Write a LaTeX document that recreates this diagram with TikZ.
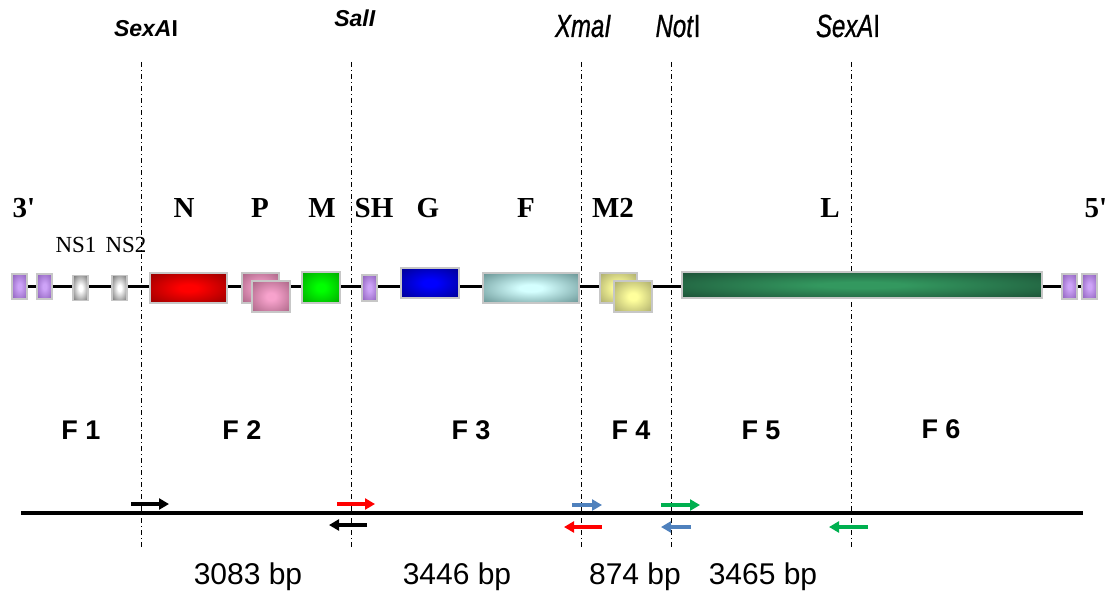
\documentclass[tikz,border=0pt]{standalone}
\usepackage{fontspec}
\setmainfont{Liberation Serif}[Ligatures=TeXOff]
\setsansfont{Liberation Sans}
\newfontfamily\narrowsans[FakeStretch=0.75,
  UprightFeatures={FakeBold=0.7}, ItalicFeatures={FakeBold=0.7}]{Liberation Sans}
\usetikzlibrary{arrows.meta,backgrounds}

\definecolor{primerblue}{HTML}{4F81BD}
\definecolor{primergreen}{HTML}{00B050}
\definecolor{glowin}{HTML}{FFFFFF}
\definecolor{glowout}{HTML}{000000}

% soft glow from the centre of a box towards its edges
\pgfdeclareradialshading[glowin,glowout]{boxglow}{\pgfpoint{0bp}{0bp}}{%
  color(0bp)=(glowin); color(6bp)=(glowin); color(38bp)=(glowout); color(50bp)=(glowout)}

\tikzset{
  gbox/.style={rectangle, draw=black!22, line width=1.3pt, inner sep=0pt},
  genebox/.style n args={4}{gbox, shade, shading=boxglow,
    /utils/exec={\definecolor{glowin}{HTML}{#1}\definecolor{glowout}{HTML}{#2}},
    minimum width=#3, minimum height=#4},
  purplebox/.style={genebox={CDA3F7}{8558B3}{15pt}{25pt}},
  graybox/.style={genebox={FFFFFF}{646464}{15pt}{25pt}},
  backbone/.style={line width=3pt, black},
  cutline/.style={line width=1pt, dash pattern=on 5pt off 3pt on 1pt off 3pt},
  strand/.style={line width=4pt, black},
  primer/.style={line width=4pt, -{Triangle[length=10pt,width=11pt]}},
  genelabel/.style={anchor=base, font=\bfseries\fontsize{29}{32}\selectfont},
  nslabel/.style={anchor=base, font=\fontsize{23}{26}\selectfont},
  sitebold/.style={anchor=base, font=\sffamily\bfseries\fontsize{23}{26}\selectfont},
  sitenarrow/.style={anchor=base, font=\narrowsans\fontsize{32}{35}\selectfont},
  fraglabel/.style={anchor=base, font=\sffamily\bfseries\fontsize{27}{30}\selectfont},
  sizelabel/.style={anchor=base, font=\sffamily\fontsize{30}{33}\selectfont},
}

\begin{document}
\begin{tikzpicture}[x=1pt, y=-1pt]
\useasboundingbox (0,0) rectangle (1113,591);

% restriction sites
\foreach \cx in {141,351,581,671,851}
  \draw[cutline] (\cx,62) -- (\cx,549);

\node[sitebold]   (s1) at (146,37) {\textit{SexA}I};
\node[sitebold]   (s2) at (355,27) {\textit{SalI}};
\node[sitenarrow] (s3) at (583,37) {\textit{XmaI}};
\node[sitenarrow] (s4) at (678,37) {\textit{Not}I};
\node[sitenarrow] (s5) at (848,37) {\textit{SexA}I};

% gene names
\node[genelabel] (l3)  at (24,217)  {3'};
\node[genelabel] (lN)  at (184,217) {N};
\node[genelabel] (lP)  at (260,217) {P};
\node[genelabel] (lM)  at (322,217) {M};
\node[genelabel] (lSH) at (374,217) {SH};
\node[genelabel] (lG)  at (428,217) {G};
\node[genelabel] (lF)  at (526,217) {F};
\node[genelabel] (lM2) at (613,217) {M2};
\node[genelabel] (lL)  at (830,217) {L};
\node[genelabel] (l5)  at (1096,217) {5'};
\node[nslabel] (lns1) at (76,252)  {NS1};
\node[nslabel] (lns2) at (126,252) {NS2};

% genome map
\node[purplebox] (p1) at (19.5,286.5) {};
\node[purplebox] (p2) at (44.5,286.5) {};
\node[graybox] (ns1) at (80.5,288) {};
\node[graybox] (ns2) at (119.5,288) {};
\node[genebox={FF0000}{8E0000}{77pt}{30pt}] (gN) at (188.5,288) {};
\node[genebox={F7A2CC}{A3607F}{37pt}{30pt}] (gP1) at (260.5,288) {};
\node[genebox={F7A2CC}{A3607F}{38pt}{31pt}] (gP2) at (271,296.5) {};
\node[genebox={00FF00}{00A000}{38pt}{31pt}] (gM) at (321,287.5) {};
\node[genebox={CDA3F7}{8558B3}{15pt}{26pt}] (gSH) at (369.5,288) {};
\node[genebox={0000FF}{00008A}{58pt}{30pt}] (gG) at (430,283) {};
\node[genebox={D4FFFF}{5E8A8A}{96pt}{30pt}] (gF) at (531,288) {};
\node[genebox={FFFF9C}{A4A468}{37pt}{30pt}] (gM2a) at (618.5,288) {};
\node[genebox={FFFF9C}{A4A468}{38pt}{31pt}] (gM2b) at (633,296.5) {};
\node[genebox={33985F}{1A4A33}{360pt}{26pt}] (gL) at (862,285) {};
\node[purplebox] (r1) at (1069.5,286.5) {};
\node[purplebox] (r2) at (1089.5,286.5) {};

\begin{pgfonlayer}{background}
  \draw[backbone] (p1.center) -- (r2.center);
\end{pgfonlayer}

% fragments
\node[fraglabel] (f1) at (81,439)  {F 1};
\node[fraglabel] (f2) at (242,439) {F 2};
\node[fraglabel] (f3) at (471,439) {F 3};
\node[fraglabel] (f4) at (631,439) {F 4};
\node[fraglabel] (f5) at (761,439) {F 5};
\node[fraglabel] (f6) at (941,438) {F 6};

% amplified strand with primers
\draw[strand] (21,513) -- (1083,513);
\draw[primer, black]        (131,504) -- (169,504);
\draw[primer, red]          (337,504) -- (375,504);
\draw[primer, black]        (367,525) -- (329,525);
\draw[primer, primerblue]   (572,505) -- (602,505);
\draw[primer, red]          (602,527) -- (564,527);
\draw[primer, primergreen]  (661,505) -- (700,505);
\draw[primer, primerblue]   (691,527) -- (661,527);
\draw[primer, primergreen]  (868,527) -- (829,527);

% amplicon sizes
\node[sizelabel] (b1) at (248,584) {3083 bp};
\node[sizelabel] (b2) at (457,584) {3446 bp};
\node[sizelabel] (b3) at (635,584) {874 bp};
\node[sizelabel] (b4) at (763,584) {3465 bp};
\end{tikzpicture}
\end{document}
